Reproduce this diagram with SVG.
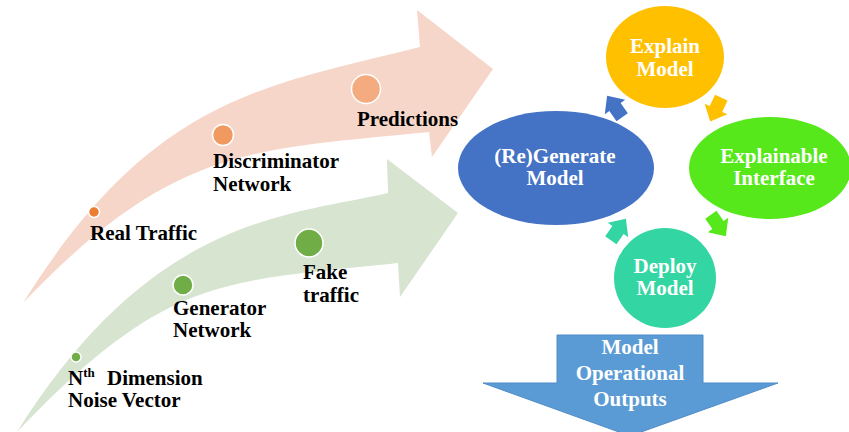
<svg xmlns="http://www.w3.org/2000/svg" width="849" height="432" viewBox="0 0 849 432">
<style>
.lbl{font-family:"Liberation Serif","Times New Roman",serif;font-weight:bold;font-size:21px;fill:#000}
.wt{font-family:"Liberation Serif","Times New Roman",serif;font-weight:bold;font-size:21px;fill:#fff;text-anchor:middle}
.dot{stroke:#fff;stroke-width:1.5}
</style>
<defs>
  <polygon id="cyc" points="-10,-5.5 0,-5.5 0,-10 11,0 0,10 0,5.5 -10,5.5"/>
</defs>
<rect width="849" height="432" fill="#fff"/>
<g id="connectors">
  <path id="pink-arrow" d="M23,303 C153,95 267,86 420,47 L417,10 L493,69 L432,157 L429,132 C250,150 173,146 23,303 Z" fill="#F7D6CA"/>
  <path id="green-arrow" d="M17,432 C152,216 288,216 388,193 L387,159 L458,213 L400,297 L398,263 C220,282 167,275 17,432 Z" fill="#D7E4D0"/>
  <use href="#cyc" fill="#4472C4" transform="translate(615,107) rotate(-125) scale(1.25)"/>
  <use href="#cyc" fill="#FFC000" transform="translate(716,109) rotate(115) scale(1.25)"/>
  <use href="#cyc" fill="#56E81A" transform="translate(718,225) rotate(55) scale(1.25)"/>
  <use href="#cyc" fill="#33D6A2" transform="translate(618,230) rotate(-55) scale(1.25)"/>
  <polygon id="outputs-arrow" points="557,335 703,335 703,383 778,383 630,436 483,383 557,383" fill="#5B9BD5" stroke="#4F8CC6" stroke-width="1"/>
</g>
<g id="real-traffic">
  <circle class="dot" cx="94" cy="212" r="5.5" fill="#ED7D31"/>
  <text class="lbl" x="90" y="240">Real Traffic</text>
</g>
<g id="discriminator">
  <circle class="dot" cx="223" cy="135" r="10.5" fill="#F09A62"/>
  <text class="lbl" x="213" y="168">Discriminator</text>
  <text class="lbl" x="213" y="191">Network</text>
</g>
<g id="predictions">
  <circle class="dot" cx="366" cy="89" r="14.5" fill="#F4AB80"/>
  <text class="lbl" x="357" y="126">Predictions</text>
</g>
<g id="noise">
  <circle class="dot" cx="76" cy="357" r="5" fill="#70AD47"/>
  <text class="lbl" x="68" y="385">N<tspan font-size="13" dy="-8">th</tspan><tspan x="107" dy="8">Dimension</tspan></text>
  <text class="lbl" x="68" y="407">Noise Vector</text>
</g>
<g id="generator">
  <circle class="dot" cx="183" cy="285" r="10" fill="#70AD47"/>
  <text class="lbl" x="173" y="315">Generator</text>
  <text class="lbl" x="173" y="337">Network</text>
</g>
<g id="fake">
  <circle class="dot" cx="309" cy="243" r="14" fill="#70AD47"/>
  <text class="lbl" x="303" y="279">Fake</text>
  <text class="lbl" x="303" y="302">traffic</text>
</g>
<g id="explain">
  <ellipse cx="665" cy="57" rx="59" ry="51" fill="#FFC000"/>
  <text class="wt" x="665" y="53">Explain</text>
  <text class="wt" x="665" y="76">Model</text>
</g>
<g id="regenerate">
  <ellipse cx="556" cy="168" rx="98" ry="57" fill="#4472C4"/>
  <text class="wt" x="555" y="163">(Re)Generate</text>
  <text class="wt" x="555" y="185">Model</text>
</g>
<g id="interface">
  <ellipse cx="770" cy="168" rx="81" ry="51" fill="#56E81A"/>
  <text class="wt" x="774" y="163">Explainable</text>
  <text class="wt" x="774" y="185">Interface</text>
</g>
<g id="deploy">
  <ellipse cx="665" cy="278" rx="51" ry="50" fill="#33D6A2"/>
  <text class="wt" x="665" y="273">Deploy</text>
  <text class="wt" x="665" y="295">Model</text>
</g>
<g id="outputs">
  <text class="wt" x="630" y="354">Model</text>
  <text class="wt" x="630" y="380">Operational</text>
  <text class="wt" x="630" y="406">Outputs</text>
</g>
</svg>
